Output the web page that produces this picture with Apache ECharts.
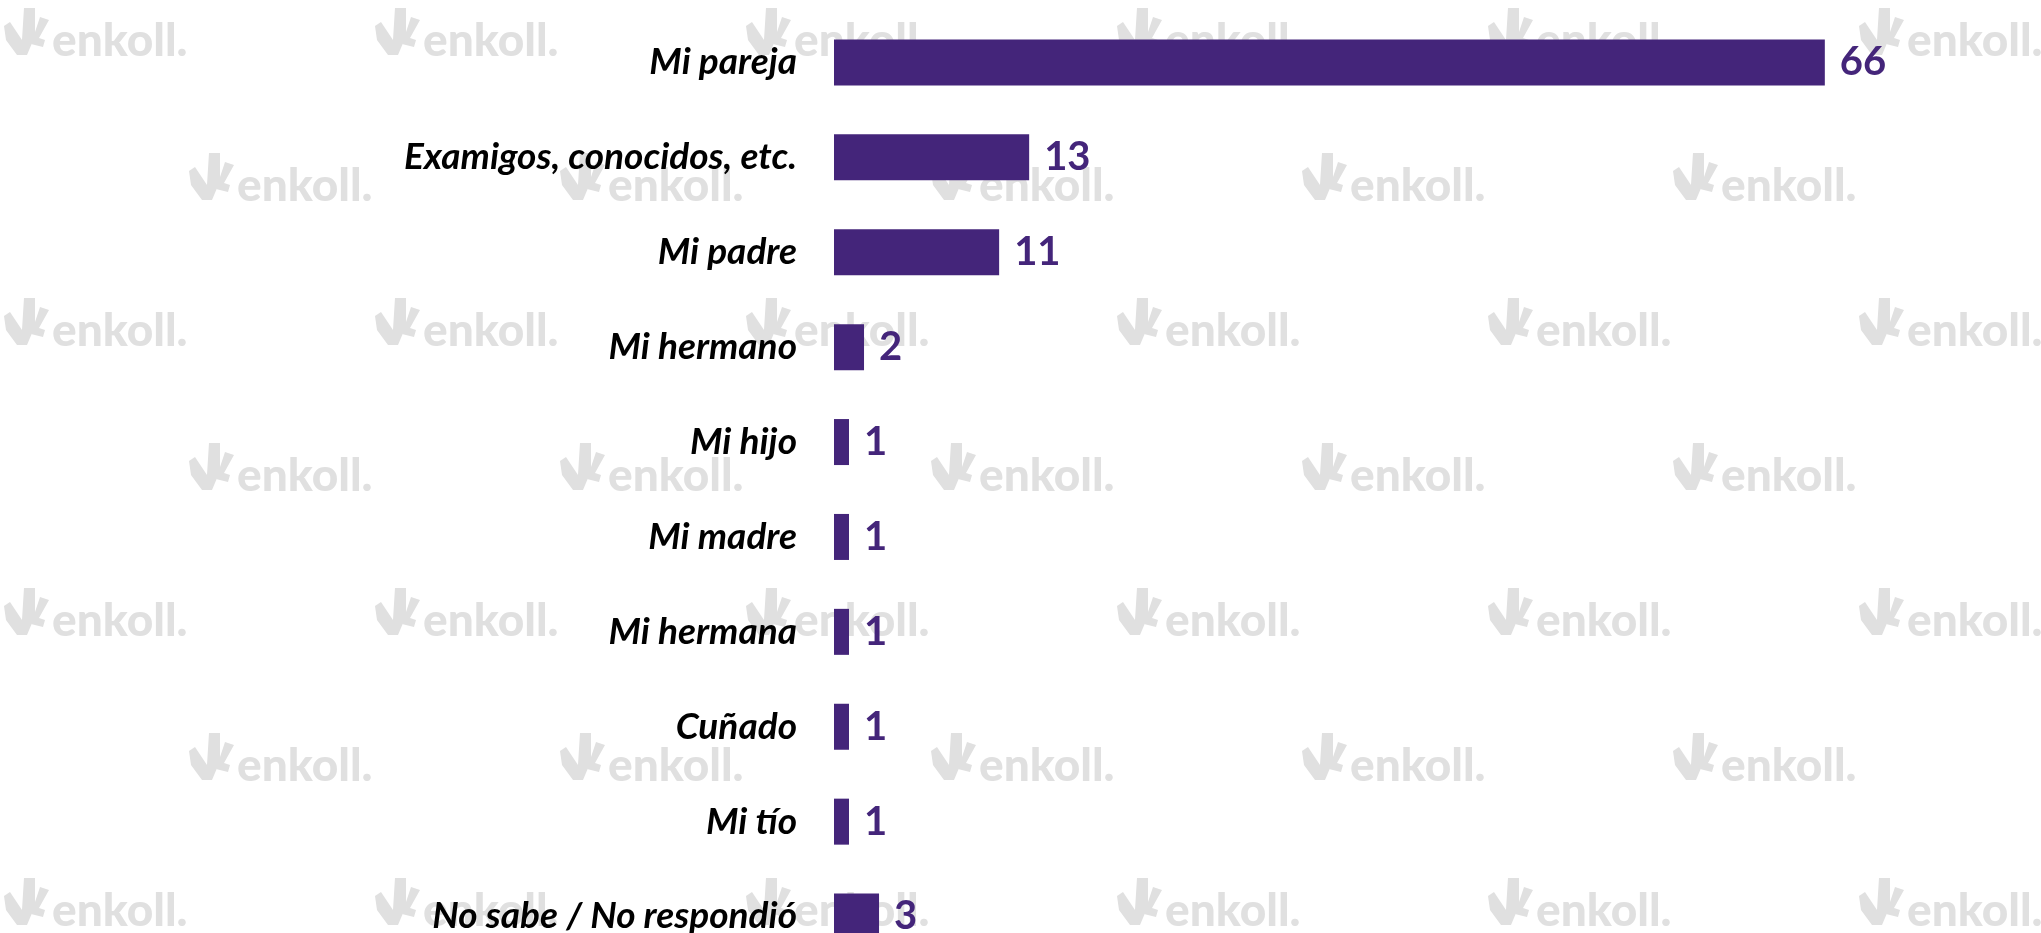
<!DOCTYPE html>
<html>
<head>
<meta charset="utf-8">
<script src="https://cdn.jsdelivr.net/npm/echarts@6/dist/echarts.min.js"></script>
<style>
  html, body { margin: 0; padding: 0; background: #fff; }
  #main { width: 2041px; height: 933px; }
</style>
</head>
<body>
<div id="main"></div>
<script>
// data
const categories = [
  'Mi pareja',
  'Examigos, conocidos, etc.',
  'Mi padre',
  'Mi hermano',
  'Mi hijo',
  'Mi madre',
  'Mi hermana',
  'Cuñado',
  'Mi tío',
  'No sabe / No respondió'
];
const values = [66, 13, 11, 2, 1, 1, 1, 1, 1, 3];

const purple = '#44257a';
const markGray = '#e0e0e0';

// "enkoll." watermark, tiled over the background
const logoPts = [
  [[2, -31], [8, -35], [20, -17], [22, -49], [33, -49], [33, -21], [25, -2], [15, -2], [4, -17]],
  [[38, -40], [47, -37], [37, -19], [43, -17], [41, -10], [29, -13]]
];
const watermarks = [];
for (let k = 0; k < 7; k++) {
  const by = 57 + 145 * k;
  const startX = k % 2 === 0 ? 2 : 187;
  const cols = k % 2 === 0 ? 6 : 5;
  for (let j = 0; j < cols; j++) {
    const x0 = startX + 371 * j;
    logoPts.forEach(pts => {
      watermarks.push({
        type: 'polygon',
        z: -10,
        silent: true,
        shape: { points: pts.map(p => [x0 + p[0], by + p[1]]) },
        style: { fill: markGray }
      });
    });
    watermarks.push({
      type: 'text',
      z: -10,
      silent: true,
      x: x0 + 50,
      y: by - 16,
      style: {
        text: 'enkoll.',
        fill: markGray,
        font: '900 46px Lato',
        verticalAlign: 'middle'
      }
    });
  }
}

const chart = echarts.init(document.getElementById('main'));
chart.setOption({
  animation: false,
  backgroundColor: '#ffffff',
  graphic: watermarks,
  grid: {
    left: 834,
    top: 15,
    width: 1201,
    height: 949,
    outerBoundsMode: 'none'
  },
  xAxis: {
    type: 'value',
    min: 0,
    max: 80,
    show: false
  },
  yAxis: {
    type: 'category',
    inverse: true,
    data: categories,
    axisLine: { show: false },
    axisTick: { show: false },
    splitLine: { show: false },
    axisLabel: {
      margin: 37,
      color: '#000',
      fontFamily: 'Lato',
      fontStyle: 'italic',
      fontWeight: 'bold',
      fontSize: 37
    }
  },
  series: [
    {
      type: 'bar',
      data: values,
      barWidth: 46,
      itemStyle: { color: purple },
      label: {
        show: true,
        position: 'right',
        distance: 15,
        color: purple,
        fontFamily: 'Lato',
        fontWeight: 'bold',
        fontSize: 40
      }
    }
  ]
});
</script>
</body>
</html>
